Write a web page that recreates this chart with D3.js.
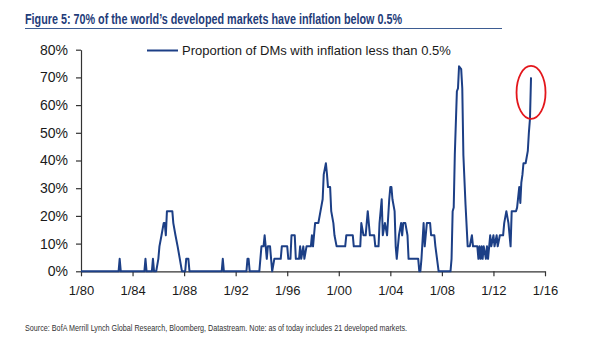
<!DOCTYPE html>
<html>
<head>
<meta charset="utf-8">
<script src="https://cdn.jsdelivr.net/npm/d3@7"></script>
<style>
  body { margin: 0; background: #fff; }
  svg { display: block; }
  .tick text { font-family: "Liberation Sans", Arial, sans-serif; fill: #1a1a1a; }
</style>
</head>
<body>
<div id="chart"></div>
<script>
// share of developed markets with inflation below 0.5% (monthly turning points)
var months = [
  "1980-01", "1982-12", "1983-01", "1983-02", "1984-12", "1985-01", "1985-02",
  "1985-07", "1985-08", "1985-09", "1985-11", "1986-01", "1986-02", "1986-04",
  "1986-06", "1986-07", "1986-08", "1986-09", "1987-02", "1987-03", "1987-05",
  "1987-07", "1987-09", "1987-11", "1988-02", "1988-03", "1988-05", "1988-06",
  "1990-12", "1991-01", "1991-02", "1992-11", "1992-12", "1993-01", "1993-02",
  "1993-11", "1994-01", "1994-03", "1994-04", "1994-05", "1994-06", "1994-07",
  "1994-09", "1994-10", "1994-11", "1995-01", "1995-07", "1995-08", "1996-01",
  "1996-02", "1996-04", "1996-05", "1996-08", "1996-09", "1996-12", "1997-01",
  "1997-02", "1997-04", "1997-05", "1997-07", "1997-11", "1997-12", "1998-01",
  "1998-03", "1998-06", "1998-08", "1998-10", "1998-11", "1999-01", "1999-02",
  "1999-03", "1999-05", "1999-06", "1999-08", "1999-09", "1999-11", "2000-07",
  "2000-08", "2001-02", "2001-03", "2001-09", "2001-10", "2001-12", "2002-02",
  "2002-04", "2002-06", "2002-10", "2002-11", "2003-02", "2003-03", "2003-05",
  "2003-06", "2003-08", "2003-10", "2003-12", "2004-01", "2004-02", "2004-03",
  "2004-05", "2004-06", "2004-07", "2004-09", "2004-11", "2004-12", "2005-01",
  "2005-03", "2005-05", "2005-06", "2006-03", "2006-04", "2006-05", "2006-06",
  "2006-08", "2006-09", "2006-11", "2007-02", "2007-03", "2007-06", "2007-07",
  "2007-10", "2008-09", "2008-10", "2008-11", "2008-12", "2009-01", "2009-03",
  "2009-04", "2009-05", "2009-07", "2009-08", "2009-09", "2009-11", "2010-01",
  "2010-03", "2010-05", "2010-06", "2010-10", "2010-11", "2010-12", "2011-01",
  "2011-02", "2011-03", "2011-04", "2011-06", "2011-07", "2011-08", "2011-10",
  "2011-11", "2012-01", "2012-02", "2012-04", "2012-05", "2012-07", "2012-10",
  "2012-11", "2013-01", "2013-03", "2013-05", "2013-06", "2013-10", "2013-11",
  "2014-01", "2014-02", "2014-03", "2014-04", "2014-05", "2014-07", "2014-09",
  "2014-10", "2014-11", "2014-12"
];

var shares = [
  0, 0, 4.5, 0, 0, 4.5, 0,
  0, 4.5, 0, 0, 4.5, 9, 13,
  17.4, 17.4, 13, 21.7, 21.7, 17.4, 13,
  9, 4.5, 0, 0, 4.5, 4.5, 0,
  0, 4.5, 0, 0, 4.5, 4.5, 0,
  0, 9, 9, 13, 9, 4.5, 9,
  9, 4.5, 0, 4.5, 4.5, 9, 9,
  4.5, 4.5, 13, 13, 4.5, 4.5, 9,
  4.5, 9, 4.5, 9, 9, 13, 9,
  17.4, 17.4, 21.7, 26, 35, 39, 35,
  30.4, 30.4, 21.7, 17.4, 13, 9, 9,
  13, 13, 9, 9, 17.4, 13, 13,
  21.7, 13, 13, 9, 9, 17.4, 26,
  13, 17.4, 13, 26, 30.4, 30.4, 26,
  21.7, 9, 4.5, 13, 17.4, 13, 17.4,
  17.4, 13, 4.5, 4.5, 0, 0, 4.5,
  17.4, 9, 17.4, 17.4, 13, 13, 9,
  0, 0, 4.5, 21.7, 23, 42, 65,
  66, 74, 73, 66, 42, 24, 9,
  9, 13, 9, 9, 4.5, 9, 4.5,
  9, 4.5, 9, 4.5, 9, 4.5, 13,
  9, 13, 9, 13, 9, 13, 13,
  17.4, 21.7, 17.4, 9, 21.7, 21.7, 23,
  30.4, 24.7, 32, 34.8, 39, 39, 43.5,
  50, 55, 70
];

var yTicks = [0, 0.1, 0.2, 0.3, 0.4, 0.5, 0.6, 0.7, 0.8];
var xTickYears = [1980, 1984, 1988, 1992, 1996, 2000, 2004, 2008, 2012, 2016];

var titleText = "Figure 5: 70% of the world\u2019s developed markets have inflation below 0.5%";
var legendText = "Proportion of DMs with inflation less than 0.5%";
var sourceText = "Source: BofA Merrill Lynch Global Research, Bloomberg, Datastream. Note: as of today includes 21 developed markets.";

var lineBlue = "#1c3f86";

var width = 600, height = 345;
var plot = { left: 81, right: 545, top: 49.7, bottom: 271.3 };

var parseMonth = d3.timeParse("%Y-%m");
var data = months.map(function(m, i) {
  return { date: parseMonth(m), value: shares[i] / 100 };
});

var svg = d3.select("#chart")
  .append("svg")
  .attr("width", width)
  .attr("height", height);

// title with rule beneath
svg.append("text")
  .attr("x", 25)
  .attr("y", 24)
  .attr("textLength", 377)
  .attr("lengthAdjust", "spacingAndGlyphs")
  .style("font-family", "'Liberation Sans Narrow', 'Arial Narrow', sans-serif")
  .style("font-weight", "bold")
  .style("font-size", "15px")
  .style("fill", "#1f3d7a")
  .text(titleText);

svg.append("line")
  .attr("x1", 25).attr("x2", 502)
  .attr("y1", 28.5).attr("y2", 28.5)
  .attr("stroke", "#3d5c92")
  .attr("stroke-width", 1);

var x = d3.scaleTime()
  .domain([new Date(1980, 0, 1), new Date(2016, 0, 1)])
  .range([plot.left, plot.right]);

var y = d3.scaleLinear()
  .domain([0, 0.8])
  .range([plot.bottom, plot.top]);

// axes
var xAxis = d3.axisBottom(x)
  .tickValues(xTickYears.map(function(yr) { return new Date(yr, 0, 1); }))
  .tickFormat(function(d) { return "1/" + d3.timeFormat("%y")(d); })
  .tickSizeInner(5)
  .tickSizeOuter(0)
  .tickPadding(9);

var yAxis = d3.axisLeft(y)
  .tickValues(yTicks)
  .tickFormat(d3.format(".0%"))
  .tickSizeInner(5)
  .tickSizeOuter(0)
  .tickPadding(8);

var gx = svg.append("g")
  .attr("transform", "translate(0," + plot.bottom + ")")
  .call(xAxis);
gx.selectAll("text").style("font-size", "13px");

var gy = svg.append("g")
  .attr("transform", "translate(" + plot.left + ",0)")
  .call(yAxis);
gy.selectAll("text").style("font-size", "14px");

svg.selectAll(".domain, .tick line")
  .attr("stroke", "#333")
  .attr("stroke-width", 1.2);

// series line
var line = d3.line()
  .x(function(d) { return x(d.date); })
  .y(function(d) { return y(d.value); });

svg.append("path")
  .datum(data)
  .attr("d", line)
  .attr("fill", "none")
  .attr("stroke", lineBlue)
  .attr("stroke-width", 2)
  .attr("stroke-linejoin", "round");

// red ring around the latest reading
var last = data[data.length - 1];
svg.append("ellipse")
  .attr("cx", x(last.date))
  .attr("cy", y(last.value) + 15)
  .attr("rx", 14.5)
  .attr("ry", 26.5)
  .attr("fill", "none")
  .attr("stroke", "#e3161b")
  .attr("stroke-width", 1.8);

// legend
svg.append("line")
  .attr("x1", 147).attr("x2", 178)
  .attr("y1", 50.5).attr("y2", 50.5)
  .attr("stroke", lineBlue)
  .attr("stroke-width", 2);

svg.append("text")
  .attr("x", 182)
  .attr("y", 55)
  .style("font-family", "'Liberation Sans', Arial, sans-serif")
  .style("font-size", "13px")
  .style("fill", "#1a1a1a")
  .text(legendText);

// source note
svg.append("text")
  .attr("x", 25)
  .attr("y", 331)
  .attr("textLength", 382)
  .attr("lengthAdjust", "spacingAndGlyphs")
  .style("font-family", "'Liberation Sans Narrow', 'Arial Narrow', sans-serif")
  .style("font-size", "9px")
  .style("fill", "#333")
  .text(sourceText);
</script>
</body>
</html>
